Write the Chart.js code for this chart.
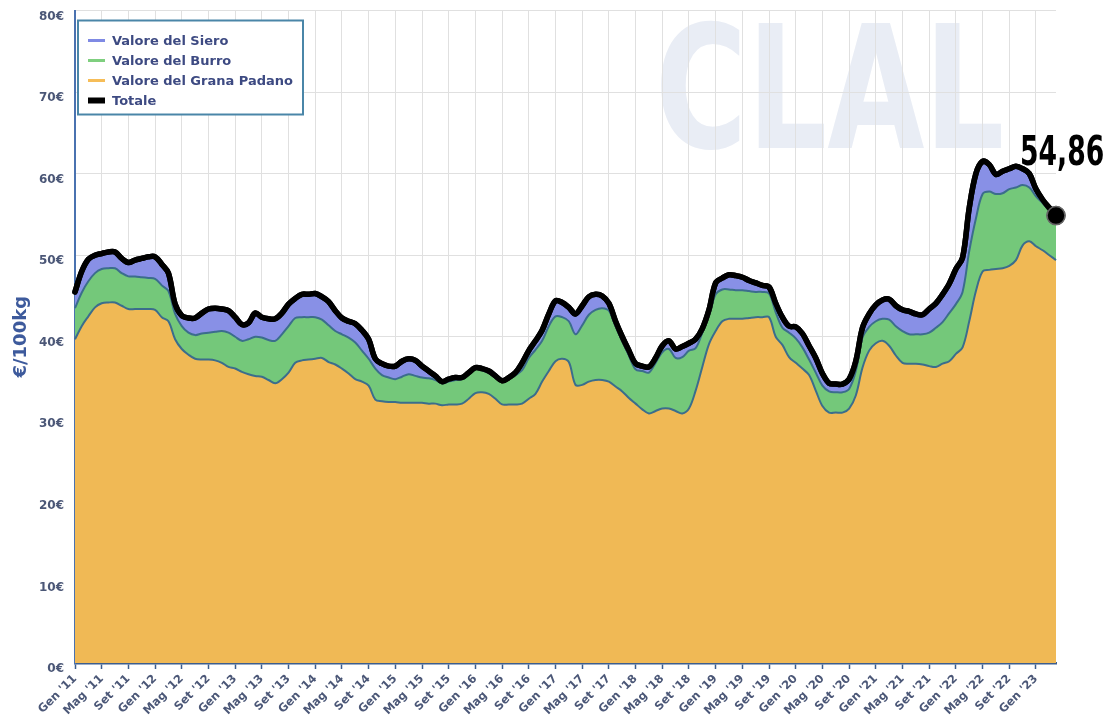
<!DOCTYPE html>
<html>
<head>
<meta charset="utf-8">
<script src="https://cdn.jsdelivr.net/npm/chart.js@4.4.0/dist/chart.umd.min.js"></script>
<style>
  body { margin: 0; background: #fff; }
  canvas { display: block; }
</style>
</head>
<body>
<canvas id="chart" width="1108" height="722"></canvas>
<script>
// mesi da Gen '11 a Apr '23
const mesi = ['Gen', 'Feb', 'Mar', 'Apr', 'Mag', 'Giu', 'Lug', 'Ago', 'Set', 'Ott', 'Nov', 'Dic'];
const annoInizio = 11;

const grana = [
    39.7, 41.3, 42.5, 43.6, 44.1, 44.2, 44.2, 43.8, 43.4, 43.4, 43.4, 43.4, 43.3, 42.4, 41.9,
    39.7, 38.5, 37.8, 37.3, 37.2, 37.2, 37.1, 36.8, 36.3, 36.1, 35.7, 35.4, 35.2, 35.1, 34.7,
    34.3, 34.8, 35.6, 36.8, 37.1, 37.2, 37.3, 37.4, 36.9, 36.6, 36.1, 35.5, 34.8, 34.5, 34.0,
    32.3, 32.1, 32.0, 32.0, 31.9, 31.9, 31.9, 31.9, 31.8, 31.8, 31.6, 31.7, 31.7, 31.8, 32.4,
    33.1, 33.2, 33.0, 32.4, 31.7, 31.7, 31.7, 31.8, 32.4, 33.0, 34.5, 35.8, 37.0, 37.3, 36.9,
    34.1, 34.1, 34.5, 34.7, 34.7, 34.5, 33.9, 33.3, 32.5, 31.8, 31.1, 30.6, 30.9, 31.2, 31.2,
    30.9, 30.6, 31.2, 33.4, 36.3, 39.1, 40.7, 41.9, 42.2, 42.2, 42.2, 42.3, 42.4, 42.4, 42.4,
    40.0, 39.0, 37.5, 36.8, 36.1, 35.3, 33.4, 31.5, 30.7, 30.7, 30.7, 31.2, 32.8, 36.2, 38.3,
    39.2, 39.5, 38.9, 37.7, 36.8, 36.7, 36.7, 36.6, 36.4, 36.3, 36.7, 37.0, 37.9, 38.7,
    41.9, 45.6, 48.0, 48.2, 48.3, 48.4, 48.7, 49.4, 51.2, 51.7, 51.1, 50.6, 50.0, 49.40
];

const burro = [
    3.8, 4.1, 4.3, 4.2, 4.2, 4.2, 4.2, 4.0, 4.0, 4.0, 3.9, 3.8, 3.8, 3.9, 3.7,
    3.1, 2.8, 2.7, 2.9, 3.2, 3.3, 3.5, 3.9, 4.2, 3.9, 3.8, 4.3, 4.8, 4.8, 4.9,
    5.2, 5.5, 5.7, 5.5, 5.3, 5.2, 5.1, 4.7, 4.5, 4.1, 4.2, 4.4, 4.5, 3.8, 3.3,
    3.8, 3.2, 3.0, 2.8, 3.2, 3.5, 3.3, 3.1, 3.1, 2.9, 2.7, 2.8, 3.0, 3.0, 3.0,
    3.0, 2.7, 2.6, 2.7, 2.8, 3.1, 3.6, 4.1, 5.0, 5.4, 5.0, 5.5, 5.5, 5.1, 5.0,
    6.2, 7.3, 8.2, 8.6, 8.8, 8.7, 7.4, 6.2, 5.2, 4.2, 4.7, 5.0, 5.9, 6.9, 7.3,
    6.5, 6.9, 7.1, 5.2, 4.2, 3.6, 4.5, 3.9, 3.6, 3.5, 3.5, 3.3, 3.1, 3.1, 2.9,
    3.0, 2.1, 3.0, 3.0, 2.6, 1.9, 2.2, 2.5, 2.6, 2.5, 2.5, 2.4, 3.0, 3.7, 2.9,
    2.7, 2.7, 3.2, 3.6, 3.9, 3.6, 3.6, 3.7, 4.1, 4.8, 5.1, 5.9, 6.1, 6.8,
    8.6, 8.9, 9.5, 9.6, 9.2, 9.2, 9.4, 8.9, 7.4, 6.6, 6.1, 5.8, 5.5, 5.10
];

const siero = [
    2.0, 2.6, 2.7, 2.2, 1.9, 2.0, 2.0, 1.8, 1.7, 2.0, 2.3, 2.6, 2.7, 2.6, 2.2,
    1.2, 1.3, 1.8, 2.1, 2.5, 2.9, 2.9, 2.7, 2.7, 2.4, 2.0, 2.0, 2.9, 2.5, 2.6,
    2.7, 2.6, 2.7, 2.4, 2.8, 2.8, 2.9, 2.8, 2.9, 2.5, 2.0, 2.0, 2.3, 2.5, 2.4,
    1.2, 1.4, 1.4, 1.6, 1.9, 1.9, 1.9, 1.4, 0.9, 0.5, 0.2, 0.3, 0.3, 0.2, 0.2,
    0.1, 0.2, 0.2, 0.1, 0.1, 0.2, 0.3, 0.9, 0.9, 1.1, 1.3, 1.5, 1.9, 1.8, 1.7,
    2.5, 2.4, 2.2, 1.9, 1.5, 0.9, 0.6, 0.5, 0.6, 0.7, 0.6, 0.7, 0.6, 0.8, 1.0,
    1.1, 1.3, 0.9, 1.1, 0.5, 0.6, 1.4, 1.4, 1.8, 1.8, 1.6, 1.3, 1.1, 0.8, 0.8,
    1.1, 1.3, 0.8, 1.4, 1.7, 1.7, 1.8, 1.5, 1.0, 1.0, 1.0, 1.2, 1.2, 1.2, 1.6,
    2.0, 2.3, 2.5, 2.5, 2.6, 2.8, 2.5, 2.4, 2.9, 3.0, 3.4, 3.6, 4.3, 4.2,
    5.3, 5.5, 4.0, 3.3, 2.4, 2.7, 2.5, 2.6, 2.0, 1.7, 0.9, 0.4, 0.3, 0.36
];

const labels = grana.map((_, i) => mesi[i % 12] + " '" + String(annoInizio + Math.floor(i / 12)).padStart(2, '0'));
const ultimo = grana.length - 1;

Chart.defaults.font.family = '"DejaVu Sans", Verdana, sans-serif';

const legendItems = [
    { text: 'Valore del Siero', color: '#7f8ae4', width: 3 },
    { text: 'Valore del Burro', color: '#7fcf7f', width: 3 },
    { text: 'Valore del Grana Padano', color: '#f6bd58', width: 3 },
    { text: 'Totale', color: '#000', width: 6 },
];

const watermark = {
    id: 'watermark',
    beforeDraw(chart) {
        const ctx = chart.ctx;
        ctx.save();
        ctx.fillStyle = '#e9edf5';
        ctx.translate(655, 148);
        ctx.scale(0.73, 1);
        ctx.font = 'bold 172px "DejaVu Sans"';
        ctx.fillText('CLAL', 0, 0);
        ctx.restore();
    }
};

const totale = {
    id: 'totale',
    afterDatasetsDraw(chart) {
        const ctx = chart.ctx;
        const meta = chart.getDatasetMeta(2);
        meta.dataset.draw(ctx, chart.chartArea);
        const pt = meta.data[ultimo];
        pt.draw(ctx, chart.chartArea);

        const valore = (grana[ultimo] + burro[ultimo] + siero[ultimo]).toFixed(2).replace('.', ',');
        ctx.save();
        ctx.fillStyle = '#000';
        ctx.translate(pt.x - 36, pt.y - 51);
        ctx.scale(0.65, 1);
        ctx.font = 'bold 41px "DejaVu Sans"';
        ctx.textBaseline = 'alphabetic';
        ctx.fillText(valore, 0, 0);
        ctx.restore();
    }
};

const legenda = {
    id: 'legenda',
    afterDraw(chart) {
        const ctx = chart.ctx;
        const x = chart.chartArea.left + 3;
        const y = chart.chartArea.top + 10;
        ctx.save();
        ctx.fillStyle = '#fff';
        ctx.fillRect(x, y, 225, 94);
        ctx.strokeStyle = '#4a86a8';
        ctx.lineWidth = 2;
        ctx.strokeRect(x, y, 225, 94);
        ctx.font = 'bold 13px "DejaVu Sans"';
        ctx.textBaseline = 'middle';
        legendItems.forEach((item, i) => {
            const cy = y + 20 + i * 20;
            ctx.strokeStyle = item.color;
            ctx.lineWidth = item.width;
            ctx.beginPath();
            ctx.moveTo(x + 10, cy);
            ctx.lineTo(x + 27, cy);
            ctx.stroke();
            ctx.fillStyle = '#3d4a82';
            ctx.fillText(item.text, x + 34, cy + 1);
        });
        ctx.restore();
    }
};

new Chart(document.getElementById('chart'), {
    type: 'line',
    data: {
        labels,
        datasets: [
            {
                label: 'Valore del Grana Padano',
                data: grana,
                fill: 'origin',
                backgroundColor: '#f0b955',
                borderColor: '#3b6d8c',
                borderWidth: 2,
                pointRadius: 0,
                tension: 0.35,
            },
            {
                label: 'Valore del Burro',
                data: burro,
                fill: '-1',
                backgroundColor: '#74c87a',
                borderColor: '#3b6d8c',
                borderWidth: 2,
                pointRadius: 0,
                tension: 0.35,
            },
            {
                label: 'Valore del Siero',
                data: siero,
                fill: '-1',
                backgroundColor: '#8890e6',
                borderColor: '#000',
                borderWidth: 5.5,
                borderJoinStyle: 'round',
                borderCapStyle: 'round',
                pointRadius: (c) => c.dataIndex === ultimo ? 9 : 0,
                pointBackgroundColor: '#000',
                pointBorderColor: '#666',
                pointBorderWidth: 1.5,
                tension: 0.35,
                clip: false,
            },
        ],
    },
    options: {
        responsive: false,
        animation: false,
        devicePixelRatio: 1,
        events: [],
        layout: { padding: { top: 8, right: 52, left: 0, bottom: 0 } },
        plugins: {
            legend: { display: false },
            tooltip: { enabled: false },
            filler: { drawTime: 'beforeDatasetsDraw' },
        },
        scales: {
            x: {
                offset: false,
                grid: {
                    color: '#e0e0e0',
                    tickColor: '#3d5e8e',
                    tickLength: 6,
                    tickWidth: 1.5,
                },
                border: { color: '#3d5e8e', width: 2.5 },
                ticks: {
                    autoSkip: false,
                    minRotation: 45,
                    maxRotation: 45,
                    padding: 3,
                    color: '#4b5777',
                    font: { size: 11.5, weight: 'bold' },
                    callback(value, index) {
                        return index % 4 === 0 ? this.getLabelForValue(value) : null;
                    },
                },
                afterFit(scale) {
                    scale.height = 59;
                    scale.paddingLeft = 0;
                    scale.paddingRight = 0;
                },
            },
            y: {
                stacked: true,
                min: 0,
                max: 80,
                grid: { color: '#e0e0e0', drawTicks: false },
                border: { color: '#4a72b0', width: 2 },
                ticks: {
                    stepSize: 10,
                    padding: 11,
                    labelOffset: 6,
                    color: '#4b5777',
                    font: { size: 12, weight: 'bold' },
                    callback: (v) => v + '€',
                },
                title: {
                    display: true,
                    text: '€/100kg',
                    color: '#3d5a9c',
                    font: { size: 18, weight: 'bold' },
                    padding: { top: 11, bottom: 0 },
                },
                afterFit(scale) {
                    scale.width = 75;
                    scale.paddingTop = 0;
                    scale.paddingBottom = 0;
                },
            },
        },
    },
    plugins: [watermark, totale, legenda],
});
</script>
</body>
</html>
